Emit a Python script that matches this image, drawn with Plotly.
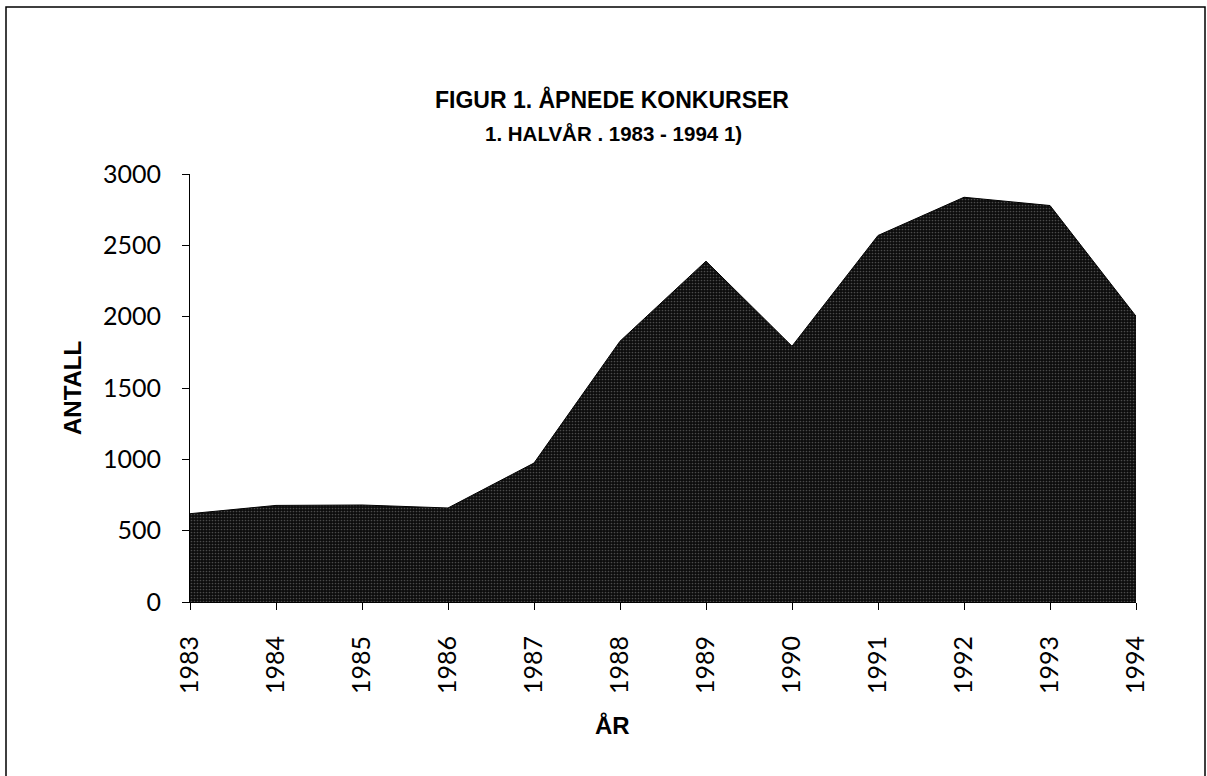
import plotly.graph_objects as go

years = [1983, 1984, 1985, 1986, 1987, 1988, 1989, 1990, 1991, 1992, 1993, 1994]
antall = [619, 677, 680, 659, 974, 1828, 2389, 1793, 2569, 2837, 2779, 2003]
ytick_vals = [0, 500, 1000, 1500, 2000, 2500, 3000]
title_text = "FIGUR 1. ÅPNEDE KONKURSER"
subtitle_text = "1. HALVÅR . 1983 - 1994 1)"
x_title = "ÅR"
y_title = "ANTALL"

W, H = 1207, 776
L, R, T, B = 190, 71, 174, 174
PW, PH = W - L - R, H - T - B

def px(x):
    return (x - L) / PW

def py(y):
    return (H - B - y) / PH

bold_font = "Liberation Sans Narrow, Arial Narrow, Liberation Sans, Arial"
tickfont = dict(family="Lato, Century Gothic, sans-serif", size=25, color="black")

fig = go.Figure()
fig.add_trace(go.Scatter(
    x=years, y=antall, mode="lines", fill="tozeroy",
    line=dict(color="black", width=1),
    fillcolor="#141414",
    fillpattern=dict(shape=".", bgcolor="#0c0c0c", fgcolor="#4a4a4a", size=3, solidity=0.25, fillmode="replace"),
    showlegend=False, hoverinfo="skip",
))

fig.update_layout(
    width=W, height=H,
    margin=dict(l=L, r=R, t=T, b=B, pad=0),
    paper_bgcolor="white", plot_bgcolor="white",
    xaxis=dict(
        range=[years[0], years[-1]], tickmode="array", tickvals=years,
        ticktext=[str(y) for y in years], tickangle=-90,
        ticks="outside", ticklen=7, tickcolor="black", tickwidth=1,
        showline=True, linecolor="black", linewidth=1,
        showgrid=False, zeroline=False, tickfont=tickfont,
        ticklabelstandoff=16,
    ),
    yaxis=dict(
        range=[0, 3000], tickmode="array", tickvals=ytick_vals,
        ticks="outside", ticklen=7, tickcolor="black", tickwidth=1,
        showline=True, linecolor="black", linewidth=1,
        showgrid=False, zeroline=False, tickfont=tickfont,
        ticklabelstandoff=16,
    ),
    yaxis2=dict(
        range=[0, 3000], tickmode="array", tickvals=ytick_vals,
        overlaying="y", side="left", ticks="inside", ticklen=7,
        tickcolor="black", tickwidth=1, showticklabels=False,
        showline=False, showgrid=False, zeroline=False,
    ),
)

fig.add_annotation(text=f"<b>{title_text}</b>", x=px(612), y=py(100), xref="paper", yref="paper",
                   showarrow=False, font=dict(family=bold_font, size=23, color="black"),
                   xanchor="center", yanchor="middle")
fig.add_annotation(text=f"<b>{subtitle_text}</b>", x=px(613), y=py(133), xref="paper", yref="paper",
                   showarrow=False, font=dict(family=bold_font, size=20.5, color="black"),
                   xanchor="center", yanchor="middle")
fig.add_annotation(text=f"<b>{y_title}</b>", x=px(72), y=0.5, xref="paper", yref="paper",
                   showarrow=False, textangle=-90, font=dict(family=bold_font, size=24, color="black"),
                   xanchor="center", yanchor="middle")
fig.add_annotation(text=f"<b>{x_title}</b>", x=px(612), y=py(725), xref="paper", yref="paper",
                   showarrow=False, font=dict(family=bold_font, size=24, color="black"),
                   xanchor="center", yanchor="middle")

fig.add_shape(type="rect", xref="paper", yref="paper",
              x0=px(6), x1=px(1205), y0=py(790), y1=py(7),
              line=dict(color="black", width=1.5), fillcolor="rgba(0,0,0,0)", layer="above")

fig.write_html("out.html", config={"displayModeBar": False},
               post_script="document.body.style.margin='0';document.body.style.padding='0';")
